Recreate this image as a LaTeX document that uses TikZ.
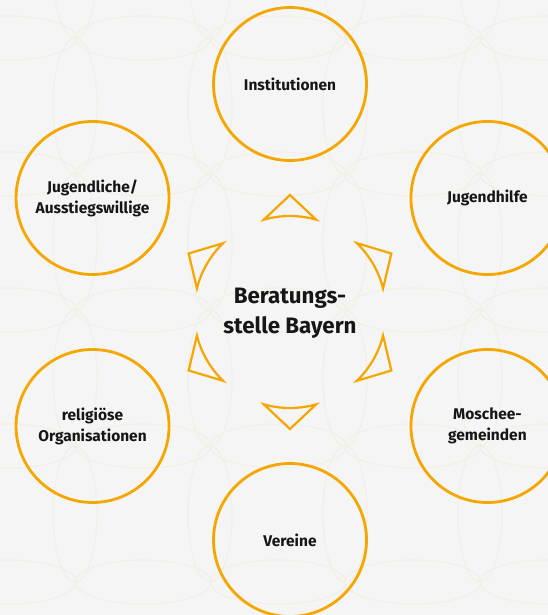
\documentclass[tikz,border=0pt]{standalone}
\usepackage{fontspec}
\setmainfont{Fira Sans}
\definecolor{bayorange}{RGB}{245,166,0}
\definecolor{bggray}{RGB}{245,245,245}
\definecolor{bgline}{RGB}{242,239,229}
\definecolor{txt}{RGB}{22,22,22}
\tikzset{
  partner/.style={circle, draw=bayorange, line width=2.8pt, minimum size=153pt,
    inner sep=0pt, align=center, text=txt, font=\bfseries\fontsize{15.5}{21}\selectfont},
  hub/.style={align=center, text=txt, font=\bfseries\fontsize{22.3}{30}\selectfont},
  pointer/.style={draw=bayorange, line width=2.2pt, line join=miter},
  pattern line/.style={draw=bgline, line width=1.2pt},
}

\begin{document}
\begin{tikzpicture}[x=1pt, y=1pt]
\useasboundingbox [fill=bggray] (-290,-303) rectangle (258,312);

% faint background pattern
\begin{scope}
\clip (-290,-303) rectangle (258,312);
\foreach \i in {0,...,4} \foreach \j in {0,...,4} {
  \draw [pattern line] (-282+135*\i, 274-136*\j) ellipse [x radius=68, y radius=22];
  \draw [pattern line] (-215+135*\i, 342-136*\j) ellipse [x radius=22, y radius=68];
}
\end{scope}

\node [hub] (hub) at (0,-1) {Beratungs-\\stelle Bayern};

\node [partner] (inst)  at (90:228)  {Institutionen};
\node [partner] (jhilfe) at (30:228) {Jugendhilfe};
\node [partner] (mosch) at (-30:228) {Moschee-\\gemeinden};
\node [partner] (verein) at (-90:228) {Vereine};
\node [partner] (relig) at (-150:228) {religiöse\\Organisationen};
\node [partner] (jugend) at (150:228) {Jugendliche/\\Ausstiegswillige};

\draw [pointer] ([shift={(90:117)}]0,0) -- ([shift={(105.8:96)}]0,0) arc [start angle=105.8, end angle=74.2, radius=96] -- cycle;
\draw [pointer] ([shift={(30:117)}]0,0) -- ([shift={(45.8:96)}]0,0) arc [start angle=45.8, end angle=14.2, radius=96] -- cycle;
\draw [pointer] ([shift={(-30:117)}]0,0) -- ([shift={(-14.2:96)}]0,0) arc [start angle=-14.2, end angle=-45.8, radius=96] -- cycle;
\draw [pointer] ([shift={(-90:117)}]0,0) -- ([shift={(-74.2:96)}]0,0) arc [start angle=-74.2, end angle=-105.8, radius=96] -- cycle;
\draw [pointer] ([shift={(-150:117)}]0,0) -- ([shift={(-134.2:96)}]0,0) arc [start angle=-134.2, end angle=-165.8, radius=96] -- cycle;
\draw [pointer] ([shift={(150:117)}]0,0) -- ([shift={(165.8:96)}]0,0) arc [start angle=165.8, end angle=134.2, radius=96] -- cycle;
\end{tikzpicture}
\end{document}
